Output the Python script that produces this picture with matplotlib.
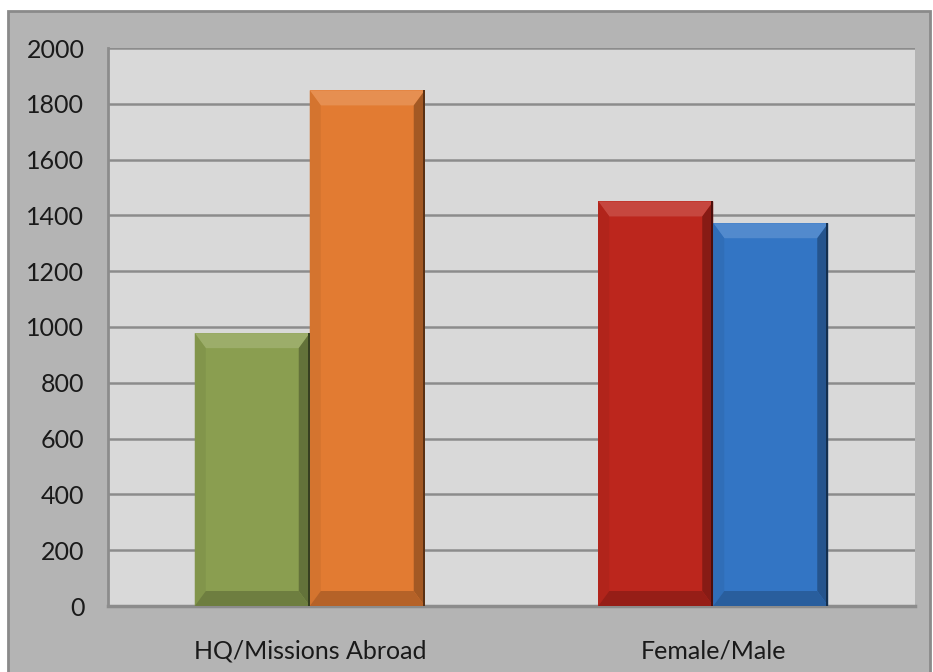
import matplotlib
matplotlib.use("Agg")
import matplotlib.pyplot as plt
from matplotlib.patches import Rectangle, Polygon
import matplotlib.colors as mcolors
import numpy as np

# ── Data ──────────────────────────────────────────────────────────────────────
categories = ["HQ/Missions Abroad", "Female/Male"]
first_vals = [978, 1450]    # HQ / Female
second_vals = [1848, 1372]  # Missions Abroad / Male
first_colors = ["#8a9e50", "#bc261d"]
second_colors = ["#e27b32", "#3375c4"]
yticks = list(range(0, 2001, 200))

plt.rcParams["font.family"] = ["Lato", "DejaVu Sans"]

fig = plt.figure(figsize=(9.33, 6.72), dpi=100)
fig.patch.set_facecolor("white")

# outer gray chart box
fig.patches.append(Rectangle((8 / 933, -0.01), 922 / 933, 1 - 11 / 672 + 0.01,
                             transform=fig.transFigure, facecolor="#b4b4b4",
                             edgecolor="#8a8a8a", linewidth=2, zorder=-5))

ax = fig.add_axes([108 / 933, 66 / 672, 807 / 933, 558 / 672])
ax.set_facecolor("#d9d9d9")
ax.set_xlim(-0.5, 1.5)
ax.set_ylim(0, 2000)
ax.set_yticks(yticks)
ax.set_xticks(range(len(categories)))
ax.set_xticklabels(categories)
ax.tick_params(axis="both", length=0, labelsize=18, colors="#1a1a1a")
ax.tick_params(axis="y", pad=17)
ax.tick_params(axis="x", pad=24)
ax.yaxis.grid(True, color="#8c8c8c", linewidth=1.8)
ax.set_axisbelow(True)
for side in ["top", "right"]:
    ax.spines[side].set_visible(False)
ax.spines["left"].set_color("#8c8c8c")
ax.spines["left"].set_linewidth(2)
ax.spines["bottom"].set_color("#8c8c8c")
ax.spines["bottom"].set_linewidth(2.5)

x = np.arange(len(categories))
w = 0.285
bars1 = ax.bar(x - w / 2, first_vals, w, color=first_colors, zorder=3)
bars2 = ax.bar(x + w / 2, second_vals, w, color=second_colors, zorder=3)


def shade(color, f):
    c = np.array(mcolors.to_rgb(color))
    if f > 1:
        return tuple(c + (1 - c) * (f - 1))
    return tuple(c * f)


# bevel effect: trapezoids along each edge, sized in pixels
fig.canvas.draw()
to_disp = ax.transData
to_data = ax.transData.inverted()
for bar in list(bars1) + list(bars2):
    col = bar.get_facecolor()
    x0, y0 = bar.get_x(), bar.get_y()
    x1, y1 = x0 + bar.get_width(), y0 + bar.get_height()
    (px0, py0), (px1, py1) = to_disp.transform([(x0, y0), (x1, y1)])
    bx, by = 11, 15
    outer = [(px0, py0), (px1, py0), (px1, py1), (px0, py1)]
    inner = [(px0 + bx, py0 + by), (px1 - bx, py0 + by),
             (px1 - bx, py1 - by), (px0 + bx, py1 - by)]
    faces = [
        ([outer[3], outer[2], inner[2], inner[3]], shade(col, 1.15)),  # top
        ([outer[0], outer[3], inner[3], inner[0]], shade(col, 0.94)),  # left
        ([outer[1], outer[2], inner[2], inner[1]], shade(col, 0.72)),  # right
        ([outer[0], outer[1], inner[1], inner[0]], shade(col, 0.8)),   # bottom
    ]
    for pts, c in faces:
        ax.add_patch(Polygon(to_data.transform(pts), closed=True,
                             facecolor=c, edgecolor="none", zorder=4))
    # thin dark outline on right
    edge = to_data.transform([(px1 - 2, py0), (px1, py0), (px1, py1), (px1 - 2, py1)])
    ax.add_patch(Polygon(edge, closed=True, facecolor=shade(col, 0.4),
                         edgecolor="none", zorder=5))

fig.savefig("out.png", dpi=100)
